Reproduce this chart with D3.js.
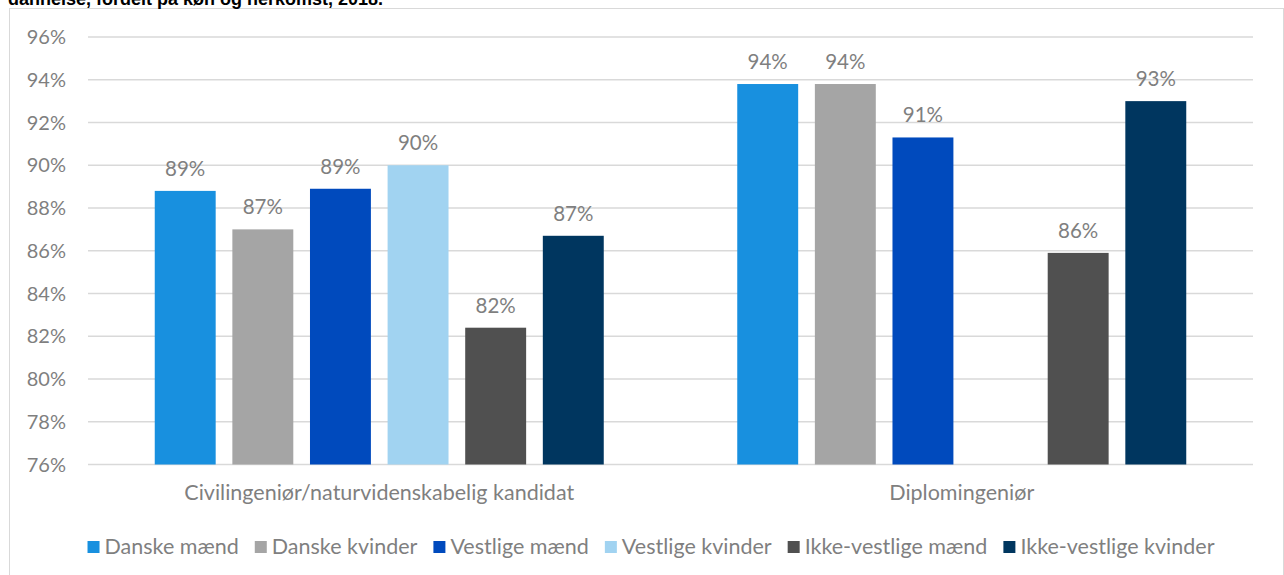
<!DOCTYPE html>
<html>
<head>
<meta charset="utf-8">
<script src="https://cdn.jsdelivr.net/npm/d3@7"></script>
<style>
  body { margin: 0; background: #fff; }
  svg text { font-family: Lato, "Open Sans", sans-serif; fill: #7f7f7f; }
</style>
</head>
<body>
<div id="chart"></div>
<script>
var categories = ["Civilingeniør/naturvidenskabelig kandidat", "Diplomingeniør"];
var seriesNames = ["Danske mænd", "Danske kvinder", "Vestlige mænd", "Vestlige kvinder", "Ikke-vestlige mænd", "Ikke-vestlige kvinder"];
var seriesColors = ["#1890df", "#a5a5a5", "#004abd", "#a1d3f1", "#505050", "#00365f"];
// values per series: [civilingeniør, diplomingeniør]; null = no bar
var danskeMaend = [88.8, 93.8];
var danskeKvinder = [87.0, 93.8];
var vestligeMaend = [88.9, 91.3];
var vestligeKvinder = [90.0, null];
var ikkeVestligeMaend = [82.4, 85.9];
var ikkeVestligeKvinder = [86.7, 93.0];
var yTicks = [76, 78, 80, 82, 84, 86, 88, 90, 92, 94, 96];
var title = "dannelse, fordelt på køn og herkomst, 2018.";

var seriesValues = [danskeMaend, danskeKvinder, vestligeMaend, vestligeKvinder, ikkeVestligeMaend, ikkeVestligeKvinder];

var width = 1284, height = 575;
var margin = {top: 37, right: 31, bottom: 110, left: 88};

var svg = d3.select("#chart").append("svg")
    .attr("width", width)
    .attr("height", height);

// chart frame
svg.append("rect")
    .attr("x", 9.5).attr("y", 8.5)
    .attr("width", 1274).attr("height", 580)
    .attr("fill", "none")
    .attr("stroke", "#d9d9d9")
    .attr("stroke-width", 1);

// title, cut off at the top like in the source
svg.append("text")
    .attr("x", 8).attr("y", 5)
    .style("font-family", "'Liberation Sans', Arial, sans-serif")
    .style("font-weight", "bold")
    .style("font-size", "18px")
    .style("fill", "#000")
    .text(title);

var plotW = width - margin.left - margin.right,
    plotH = height - margin.top - margin.bottom,
    g = svg.append("g").attr("transform", "translate(" + margin.left + "," + margin.top + ")");

var y = d3.scaleLinear().domain([76, 96]).range([plotH - 0.5, 0]);
var x0 = d3.scaleBand().domain(categories).range([0, plotW]).padding(0);
var x1 = d3.scaleBand().domain(seriesNames).range([0, x0.bandwidth()])
    .paddingInner(0.215).paddingOuter(0.86);

// gridlines
g.append("g")
    .selectAll("line")
    .data(yTicks)
    .enter().append("line")
    .attr("x1", 0).attr("x2", plotW)
    .attr("y1", function (d) { return y(d); })
    .attr("y2", function (d) { return y(d); })
    .attr("stroke", "#d9d9d9")
    .attr("stroke-width", 1.5);

// y tick labels
g.append("g")
    .selectAll("text")
    .data(yTicks)
    .enter().append("text")
    .attr("x", -22)
    .attr("y", function (d) { return y(d); })
    .attr("dy", "0.36em")
    .attr("text-anchor", "end")
    .style("font-size", "20px")
    .text(function (d) { return d + "%"; });

// bars
var groups = g.selectAll(".grp")
    .data(categories)
    .enter().append("g")
    .attr("class", "grp")
    .attr("transform", function (d) { return "translate(" + x0(d) + ",0)"; });

groups.each(function (cat, ci) {
    var pts = seriesNames.map(function (s, si) {
        return {name: s, color: seriesColors[si], v: seriesValues[si][ci]};
    }).filter(function (p) { return p.v !== null; });

    var sel = d3.select(this);
    sel.selectAll("rect")
        .data(pts)
        .enter().append("rect")
        .attr("x", function (d) { return x1(d.name); })
        .attr("width", x1.bandwidth())
        .attr("y", function (d) { return y(d.v); })
        .attr("height", function (d) { return y(76) - y(d.v); })
        .attr("fill", function (d) { return d.color; });

    sel.selectAll("text.lbl")
        .data(pts)
        .enter().append("text")
        .attr("class", "lbl")
        .attr("x", function (d) { return x1(d.name) + x1.bandwidth() / 2; })
        .attr("y", function (d) { return y(d.v) - 15; })
        .attr("text-anchor", "middle")
        .style("font-size", "20.5px")
        .text(function (d) { return Math.round(d.v) + "%"; });
});

// category labels
g.append("g")
    .selectAll("text")
    .data(categories)
    .enter().append("text")
    .attr("x", function (d) { return x0(d) + x0.bandwidth() / 2; })
    .attr("y", plotH + 35)
    .attr("text-anchor", "middle")
    .style("font-size", "21.5px")
    .text(function (d) { return d; });

// legend
var legend = svg.append("g");
var lx = 0;
seriesNames.forEach(function (s, i) {
    var item = legend.append("g").attr("transform", "translate(" + lx + ",0)");
    item.append("rect")
        .attr("x", 0).attr("y", -13)
        .attr("width", 12).attr("height", 12)
        .attr("fill", seriesColors[i]);
    var t = item.append("text")
        .attr("x", 17).attr("y", 0)
        .style("font-size", "21.5px")
        .text(s);
    lx += 17 + t.node().getComputedTextLength() + 16;
});
var legendW = lx - 16;
legend.attr("transform", "translate(" + (651 - legendW / 2) + ",554)");
</script>
</body>
</html>
